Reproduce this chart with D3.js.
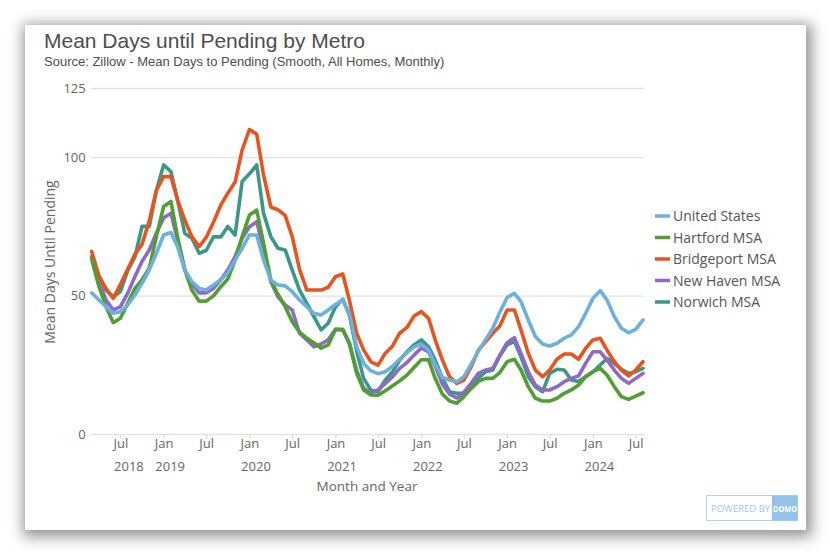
<!DOCTYPE html>
<html>
<head>
<meta charset="utf-8">
<script src="https://cdn.jsdelivr.net/npm/d3@7"></script>
<style>
  html, body { margin: 0; padding: 0; background: #ffffff; }
  #card { position: absolute; left: 25px; top: 25px; width: 781px; height: 505px; background: #fff;
          box-shadow: 2px 3px 13px 4px rgba(0,0,0,0.42); }
  svg { position: absolute; left: 0; top: 0; }
</style>
</head>
<body>
<div id="card"></div>
<svg id="chart" width="830" height="555"></svg>
<script>
// ---- data (monthly, Mar 2018 .. Aug 2024) ----
const startMonth = "2018-03";
const seriesNames = ["United States", "Hartford MSA", "Bridgeport MSA", "New Haven MSA", "Norwich MSA"];
const seriesColors = ["#6cb0dd", "#4f9f33", "#e8541e", "#9068c6", "#3b9788"];

const unitedStates = [51,48.4,46,43.6,44.2,46.6,50.2,54.4,59.3,65.3,71.9,72.8,67.7,59.3,55,52.6,52,53.8,55.7,58.3,62.9,67.1,71.9,71.9,62.9,55.6,53.8,53.5,51.4,48.4,46,43.6,43,44.8,46.8,48.5,43.6,31.5,25.5,22.8,21.8,22.5,24.5,27,29.4,31.5,32.5,30.3,25.2,20.4,19.5,18.9,20.7,25.2,30,34,38.2,44,49.3,50.8,47.8,41.2,35.2,32.5,31.8,32.8,34.6,35.8,38.8,43.6,49,51.8,48.4,42.4,38.2,36.6,37.8,41.2];
const hartford = [63.1,53.2,46,40.2,41.8,47.2,52.6,55.7,59.9,71.3,82.2,84,71.3,59.3,52,48,48,49.9,53.2,56,62.9,71.3,79.1,80.9,68.9,55.6,50.5,46,40.6,36.8,34.6,33,31,32.2,37.8,37.8,32.8,21.9,15.9,14.1,14,15.6,17.4,19.2,21.3,24,26.8,26.8,20.1,14.4,11.9,11.1,13.5,16.5,19,20.1,20.1,22.2,26.1,27,23.1,17.1,12.9,11.9,11.9,12.9,14.7,15.9,17.7,20.7,22.5,23.7,21.3,17.1,13.5,12.5,13.7,14.9];
const bridgeport = [65.9,57,52.5,49,54,59.5,65,68.5,77,88,93,93,84.6,77.3,71.3,67.7,71,76.5,82.7,87,91,102.6,110,108.3,93.5,82,81,79,71.3,59.5,52,52,52,53,56.8,57.8,48.4,36.4,30.3,26.1,24.9,29.2,31.8,36.4,38.5,42.6,44.2,41.8,34,26.7,20.7,18.3,19.5,24.3,30.3,33.3,36.4,39,44.8,44.8,37.6,29.2,23.1,20.7,23.1,27,28.9,28.9,27,31,34,34.6,30.3,26.1,23.1,21,23.1,26.1];
const newHaven = [64,55,48.4,44.8,46,50.8,56.9,62.3,66.5,72.5,78,79.8,70.1,59.3,54.4,51,51,52.6,55.7,59.3,64.1,70.7,74.9,76.7,66.5,55,49.6,46.6,44.8,36.4,34,31.5,32.5,34,37.8,37.6,32.8,23,16.5,14.7,15.9,18.3,20.7,23.7,25.8,28.5,31.1,29.7,24.6,18,14.4,13,15,18.3,21.9,23.1,23.7,28.5,33,34.8,29.1,22.5,17.7,15.9,15.9,17.1,18.9,20.1,21,25.5,29.7,29.7,26.7,23.1,20.1,18.3,20.1,21.9];
const norwich = [64,57,52,49.6,51.5,59,64,75,75,88,97.2,94.8,84.6,72.5,70.7,65.3,66.3,71.2,71.2,75,71.9,91.2,94,97.2,79.7,71.3,67.1,66.5,59.2,52,47.2,42.4,37.6,40,46,48.7,43,30,20,15.8,15.3,19.5,22.5,26.7,29.7,32.2,34,31.5,26.7,20.1,15.3,14.7,14.7,17.1,20.1,22.5,23.1,28.2,32.2,33.5,27.9,20.7,17.1,15.3,21.9,23.4,23.1,19.5,19,20.7,22.5,24.9,27.3,25.5,23.4,21.9,22.5,23.7];
const yTicks = [0, 50, 100, 125];

const allSeries = [unitedStates, hartford, bridgeport, newHaven, norwich];

// ---- layout ----
const svg = d3.select("#chart");
const plot = { left: 91.7, right: 643, top: 88, bottom: 434 };
const parse = d3.timeParse("%Y-%m");
const t0 = parse(startMonth);
const dates = d3.range(unitedStates.length).map(i => d3.timeMonth.offset(t0, i));

const x = d3.scaleTime().domain([dates[0], dates[dates.length - 1]]).range([plot.left, plot.right]);
const y = d3.scaleLinear().domain([0, 125]).range([plot.bottom, plot.top]);

// title
svg.append("text").attr("x", 44).attr("y", 48)
  .attr("font-family", "Liberation Sans, Arial, sans-serif").attr("font-size", 21)
  .attr("fill", "#4d4d4d").text("Mean Days until Pending by Metro");
svg.append("text").attr("x", 44).attr("y", 66)
  .attr("font-family", "Liberation Sans, Arial, sans-serif").attr("font-size", 13)
  .attr("fill", "#4d4d4d").text("Source: Zillow - Mean Days to Pending (Smooth, All Homes, Monthly)");

// gridlines + y labels
const yAxis = d3.axisLeft(y).tickValues(yTicks).tickSize(-(plot.right - plot.left + 2)).tickPadding(5);
const gy = svg.append("g").attr("transform", `translate(${plot.left - 1},0)`).call(yAxis);
gy.select(".domain").remove();
gy.selectAll(".tick line").attr("stroke", "#e3e3e3").attr("stroke-width", 1.3);
gy.selectAll(".tick text").attr("font-family", "Open Sans, sans-serif").attr("font-size", 13).attr("fill", "#666");

// x axis ticks
const xTicks = d3.timeMonth.every(6).range(d3.timeMonth.offset(t0, 4), d3.timeMonth.offset(dates[dates.length - 1], 1));
const fmtM = d3.timeFormat("%b"), fmtY = d3.timeFormat("%Y");
const xAxis = d3.axisBottom(x).tickValues(xTicks).tickSize(5).tickFormat("");
const gx = svg.append("g").attr("transform", `translate(0,${plot.bottom})`).call(xAxis);
gx.select(".domain").remove();
gx.selectAll(".tick line").attr("stroke", "#dcdcdc").attr("stroke-width", 1.2);
gx.selectAll(".tick").each(function(d, i) {
  const g = d3.select(this);
  g.append("text").attr("y", 14).attr("text-anchor", "middle")
    .attr("font-family", "Open Sans, sans-serif").attr("font-size", 13).attr("fill", "#666")
    .text(fmtM(d));
  if (d.getMonth() === 0 || i === 0) {
    g.append("text").attr("y", 37).attr("dx", i === 0 ? 8 : 6).attr("text-anchor", "middle")
      .attr("font-family", "Open Sans, sans-serif").attr("font-size", 13).attr("fill", "#666")
      .text(fmtY(d));
  }
});

// axis titles
svg.append("text").attr("x", 367).attr("y", 491).attr("text-anchor", "middle")
  .attr("font-family", "Open Sans, sans-serif").attr("font-size", 13.5).attr("fill", "#666").text("Month and Year");
svg.append("text").attr("transform", "translate(55,262) rotate(-90)").attr("text-anchor", "middle")
  .attr("font-family", "Open Sans, sans-serif").attr("font-size", 14).attr("fill", "#666").text("Mean Days Until Pending");

// lines (drawn last series first so US is on top)
const line = d3.line().x((d, i) => x(dates[i])).y(d => y(d));
for (let s = allSeries.length - 1; s >= 0; s--) {
  svg.append("path").datum(allSeries[s]).attr("d", line)
    .attr("fill", "none").attr("stroke", seriesColors[s]).attr("stroke-width", 3.6)
    .attr("stroke-linejoin", "round").attr("stroke-linecap", "round");
}

// legend
const lg = svg.append("g").attr("transform", "translate(655,216)");
seriesNames.forEach((n, i) => {
  const r = lg.append("g").attr("transform", `translate(0,${i * 21.5})`);
  r.append("line").attr("x1", 0).attr("x2", 15).attr("y1", 0).attr("y2", 0)
    .attr("stroke", seriesColors[i]).attr("stroke-width", 3.5);
  r.append("text").attr("x", 18).attr("y", 5).attr("font-family", "Open Sans, sans-serif")
    .attr("font-size", 14).attr("fill", "#555").text(n);
});

// powered by badge
const b = svg.append("g").attr("transform", "translate(706,495)");
b.append("rect").attr("x", 0.5).attr("y", 0.5).attr("width", 91).attr("height", 25)
  .attr("fill", "#fff").attr("stroke", "#b5d5ef").attr("stroke-width", 1);
b.append("rect").attr("x", 66).attr("y", 0.5).attr("width", 25.5).attr("height", 25).attr("fill", "#92c3ea");
b.append("text").attr("x", 5).attr("y", 17).attr("font-family", "Open Sans, sans-serif")
  .attr("font-size", 9.5).attr("fill", "#9ccaf0").text("POWERED BY");
b.append("text").attr("x", 67).attr("y", 17).attr("font-family", "Open Sans, sans-serif")
  .attr("font-size", 8.5).attr("font-weight", "bold").attr("fill", "#fff")
  .attr("textLength", 24).attr("lengthAdjust", "spacingAndGlyphs").text("DOMO");
</script>
</body>
</html>
